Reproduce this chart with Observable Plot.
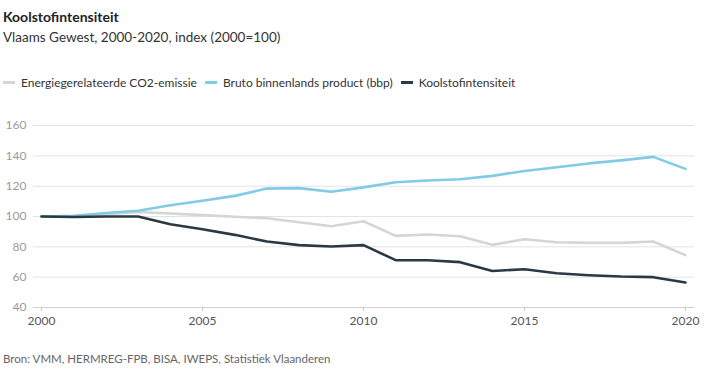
<!DOCTYPE html>
<html>
<head>
<meta charset="utf-8">
<script src="https://cdn.jsdelivr.net/npm/d3@7"></script>
<script src="https://cdn.jsdelivr.net/npm/@observablehq/plot@0.6"></script>
<style>
  body { margin: 0; font-family: Lato, "Open Sans", sans-serif; background: #fff; width: 710px; }
  #title { position: absolute; left: 3px; top: 8px; font-size: 14px; font-weight: 700; color: #222; }
  #subtitle { position: absolute; left: 3px; top: 29px; font-size: 13.5px; color: #333; }
  #legend { position: absolute; left: 3px; top: 75px; font-size: 12px; color: #333; display: flex; gap: 0; }
  .item { display: flex; align-items: center; margin-right: 8px; }
  .sw { display: inline-block; width: 12px; height: 3px; margin-right: 6px; }
  #chart { position: absolute; left: 0; top: 100px; }
  #source { position: absolute; left: 3px; top: 352px; font-size: 11.5px; color: #666; }
</style>
</head>
<body>
<div id="title">Koolstofintensiteit</div>
<div id="subtitle">Vlaams Gewest, 2000-2020, index (2000=100)</div>
<div id="legend"></div>
<div id="chart"></div>
<div id="source">Bron: VMM, HERMREG-FPB, BISA, IWEPS, Statistiek Vlaanderen</div>
<script>
const years = d3.range(2000, 2021);
const seriesNames = ["Energiegerelateerde CO2-emissie", "Bruto binnenlands product (bbp)", "Koolstofintensiteit"];
const seriesColors = ["#d5d5d5", "#80cbe6", "#2b3942"];
const co2 = [100, 100, 101.5, 103, 102, 100.9, 99.8, 98.9, 96.2, 93.6, 96.9, 87.2, 88.1, 87, 81.3, 85, 83, 82.6, 82.6, 83.5, 74.5];
const bbp = [100, 100.5, 102.3, 103.8, 107.4, 110.4, 113.6, 118.4, 118.7, 116.3, 119.2, 122.6, 123.7, 124.6, 126.8, 130, 132.5, 135, 137, 139.3, 131.4];
const intensiteit = [100, 99.7, 100, 100, 94.9, 91.6, 87.9, 83.5, 81.1, 80.2, 81.1, 71.2, 71.2, 69.9, 64.1, 65.2, 62.6, 61.3, 60.4, 60, 56.5];
const yTicks = [40, 60, 80, 100, 120, 140, 160];
const xTicks = [2000, 2005, 2010, 2015, 2020];

const allSeries = [co2, bbp, intensiteit];
const data = [];
allSeries.forEach((vals, i) => vals.forEach((v, j) => data.push({series: seriesNames[i], year: years[j], value: v})));

const legend = document.getElementById("legend");
seriesNames.forEach((n, i) => {
  const it = document.createElement("div");
  it.className = "item";
  it.innerHTML = `<span class="sw" style="background:${seriesColors[i]}"></span><span>${n}</span>`;
  legend.appendChild(it);
});

const chart = Plot.plot({
  width: 710,
  height: 240,
  marginLeft: 41,
  marginRight: 25,
  marginTop: 25,
  marginBottom: 33,
  style: {fontFamily: "Lato, sans-serif", fontSize: "12px"},
  x: {domain: [2000, 2020]},
  y: {domain: [40, 160]},
  color: {domain: seriesNames, range: seriesColors},
  marks: [
    Plot.ruleY(yTicks.filter(d => d > 40), {y: d => d, stroke: "#e3e3e3", strokeWidth: 1, insetLeft: -8, insetRight: -9}),
    Plot.ruleY([40], {stroke: "#d0d0d0", strokeWidth: 1, insetLeft: -8, insetRight: -9}),
    Plot.axisY({ticks: yTicks, tickSize: 0, tickPadding: 15, fill: "#9a9a9a", fontSize: 12, label: null}),
    Plot.axisX({ticks: xTicks, tickFormat: d => String(d), tickSize: 4, tickPadding: 5, stroke: "#ccc", fill: "#555", fontSize: 12, label: null}),
    Plot.line(data, {x: "year", y: "value", z: "series", stroke: "series", strokeWidth: 2.6, curve: "linear"})
  ]
});
document.getElementById("chart").appendChild(chart);
</script>
</body>
</html>
